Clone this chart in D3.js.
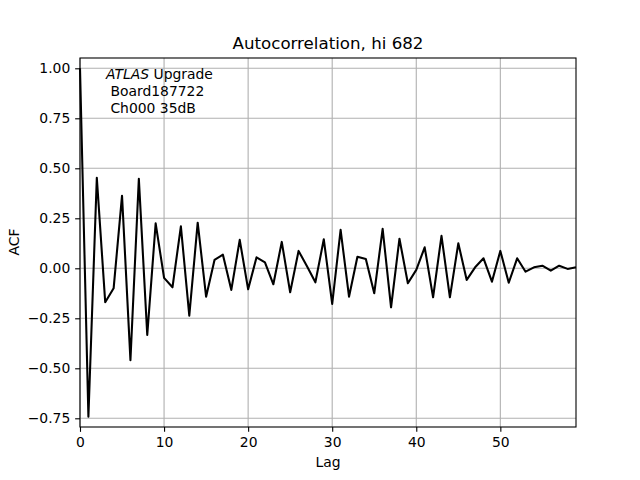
<!DOCTYPE html>
<html><head><meta charset="utf-8">
<script src="https://cdn.jsdelivr.net/npm/d3@7"></script>
<style>body{margin:0;background:#fff}svg{display:block}text{font-family:"DejaVu Sans",sans-serif}</style>
</head><body><svg id="c" width="640" height="480"></svg>
<script>
const lags = d3.range(0, 60);
const acf = [1.0, -0.742, 0.453, -0.17, -0.10, 0.363, -0.459, 0.447, -0.333, 0.225,
  -0.048, -0.095, 0.21, -0.237, 0.228, -0.142, 0.042, 0.068, -0.108, 0.142,
  -0.105, 0.055, 0.03, -0.08, 0.132, -0.12, 0.087, 0.01, -0.07, 0.145,
  -0.178, 0.192, -0.142, 0.058, 0.047, -0.125, 0.197, -0.195, 0.148, -0.075,
  -0.008, 0.105, -0.145, 0.162, -0.145, 0.125, -0.058, 0.005, 0.05, -0.067,
  0.087, -0.072, 0.05, -0.017, 0.005, 0.013, -0.012, 0.013, -0.003, 0.005];
const xTicks = [0, 10, 20, 30, 40, 50];
const yTicks = [-0.75, -0.5, -0.25, 0, 0.25, 0.5, 0.75, 1.0];
const titleText = "Autocorrelation, hi 682";
const noteLines = [" Board187722", " Ch000 35dB"];

const L = 80, R = 576, T = 58, B = 427;
const svg = d3.select("#c");
const x = d3.scaleLinear().domain([0, 59]).range([L, R]);
const y = d3.scaleLinear().domain([-0.7935, 1.0515]).range([B, T]);

// grid
svg.append("g").selectAll("line").data(xTicks).join("line")
  .attr("x1", d => x(d)).attr("x2", d => x(d)).attr("y1", T).attr("y2", B)
  .attr("stroke", "#b0b0b0").attr("stroke-width", 1.1);
svg.append("g").selectAll("line").data(yTicks).join("line")
  .attr("x1", L).attr("x2", R).attr("y1", d => y(d)).attr("y2", d => y(d))
  .attr("stroke", "#b0b0b0").attr("stroke-width", 1.1);

// line
svg.append("path").datum(lags)
  .attr("d", d3.line().x(d => x(d)).y(d => y(acf[d])))
  .attr("fill", "none").attr("stroke", "#000").attr("stroke-width", 2.08)
  .attr("stroke-linejoin", "round");

// axes
const fmtY = d3.format(".2f");
const xa = svg.append("g").attr("transform", `translate(0,${B})`)
  .call(d3.axisBottom(x).tickValues(xTicks).tickSize(4.86).tickPadding(4.86).tickFormat(d3.format("d")));
const ya = svg.append("g").attr("transform", `translate(${L},0)`)
  .call(d3.axisLeft(y).tickValues(yTicks).tickSize(4.86).tickPadding(4.86).tickFormat(fmtY));
[xa, ya].forEach(a => {
  a.select(".domain").remove();
  a.selectAll("line").attr("stroke", "#000").attr("stroke-width", 1.1);
  a.selectAll("text").attr("font-size", 13.9).attr("font-family", "DejaVu Sans").attr("fill", "#000");
});

// frame
svg.append("rect").attr("x", L).attr("y", T).attr("width", R - L).attr("height", B - T)
  .attr("fill", "none").attr("stroke", "#000").attr("stroke-width", 1.1);

// labels
svg.append("text").attr("x", (L + R) / 2).attr("y", 49).attr("text-anchor", "middle")
  .attr("font-size", 16.67).text(titleText);
svg.append("text").attr("x", (L + R) / 2).attr("y", 467).attr("text-anchor", "middle")
  .attr("font-size", 13.9).text("Lag");
svg.append("text").attr("transform", "translate(19,242) rotate(-90)").attr("text-anchor", "middle")
  .attr("font-size", 13.9).text("ACF");

const note = svg.append("text").attr("x", 106).attr("y", 79).attr("font-size", 13.9).attr("xml:space", "preserve");
note.append("tspan").attr("font-style", "italic").text("ATLAS");
note.append("tspan").text(" Upgrade");
noteLines.forEach((s, i) => {
  svg.append("text").attr("x", 106).attr("y", 96 + i * 16.5).attr("font-size", 13.9)
    .style("white-space", "pre").text(s);
});
</script></body></html>
